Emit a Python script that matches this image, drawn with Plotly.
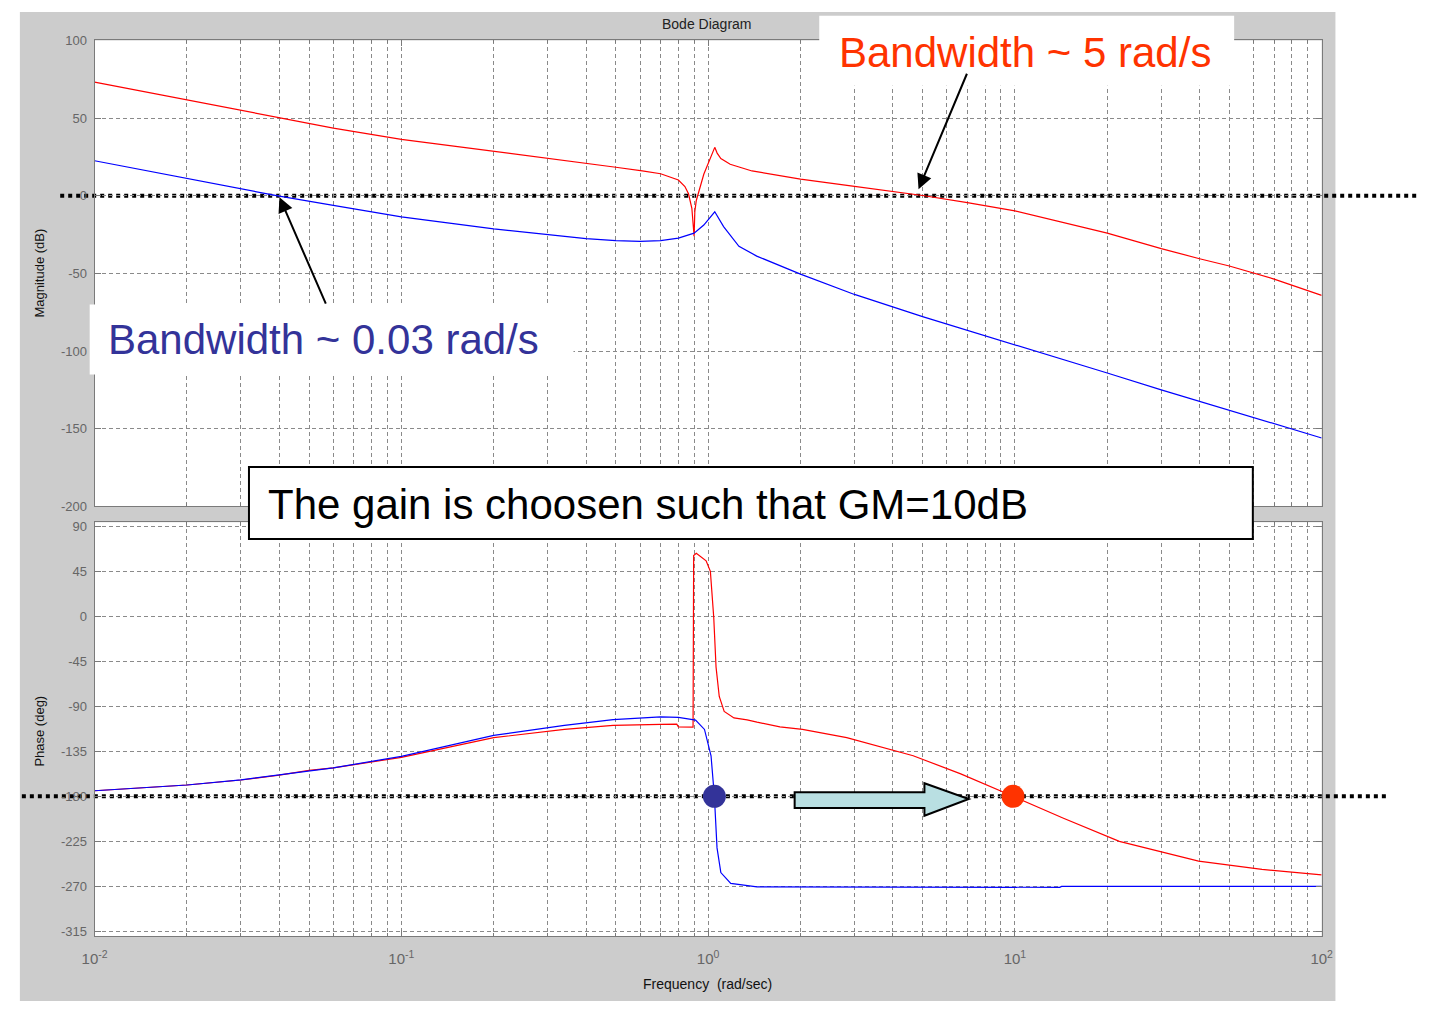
import plotly.graph_objects as go

# ---------------- data ----------------
# Open-loop magnitude (dB) of the two designs
mag_red_w = [0.01, 0.02, 0.03, 0.04, 0.06, 0.1, 0.2, 0.3, 0.5, 0.61, 0.7, 0.8, 0.84, 0.863,
             0.885, 0.9, 0.905, 0.915, 0.968, 1.051, 1.07, 1.10, 1.18, 1.39, 2.0, 3.0, 4.0, 5.0,
             7.0, 10.0, 20.0, 30.0, 40.0, 50.0, 70.0, 100.0]
mag_red_db = [73.2, 61.6, 55.0, 50.0, 43.6, 36.4, 28.8, 24.2, 18.4, 16.0, 14.2, 10.2, 6.0, 1.3,
              -8.0, -26.0, -10.0, -3.0, 13.9, 31.2, 27.5, 24.0, 20.3, 16.0, 10.8, 6.1, 2.7, 0.2,
              -4.4, -9.7, -24.0, -34.0, -40.5, -45.2, -53.6, -64.1]

mag_blue_w = [0.01, 0.02, 0.03, 0.04, 0.06, 0.1, 0.2, 0.3, 0.4, 0.5, 0.6, 0.7, 0.8, 0.9,
              0.968, 1.051, 1.123, 1.26, 1.44, 2.0, 3.0, 5.0, 10.0, 20.0, 30.0, 50.0, 100.0]
mag_blue_db = [22.6, 11.2, 4.6, -0.2, -6.1, -13.5, -21.3, -25.1, -27.6, -28.9, -29.3, -28.9,
               -27.2, -24.0, -18.8, -10.3, -19.8, -32.5, -38.8, -50.4, -63.5, -77.8, -95.8,
               -114.1, -124.9, -138.0, -155.9]

# Open-loop phase (deg)
ph_red_w = [0.01, 0.02, 0.03, 0.04, 0.05, 0.06, 0.1, 0.2, 0.34, 0.49, 0.70, 0.79, 0.80, 0.893,
            0.897, 0.915, 0.985, 1.017, 1.043, 1.061, 1.087, 1.128, 1.214, 1.34, 1.443, 1.714,
            2.03, 2.83, 4.66, 6.66, 9.86, 14.4, 21.9, 39.7, 63.9, 100.0]
ph_red_deg = [-174.5, -168.7, -163.7, -158.8, -154.0, -151.5, -141.1, -121.3, -113.1, -109.1,
              -108.1, -107.8, -110.5, -110.8, 61.0, 63.3, 55.7, 45.2, -1.0, -50.4, -80.1, -95.0,
              -101.6, -103.5, -105.8, -110.5, -113.1, -121.3, -139.4, -157.6, -180.0, -202.0,
              -225.2, -245.0, -253.2, -258.8]

ph_blue_w = [0.01, 0.02, 0.03, 0.04, 0.05, 0.06, 0.1, 0.2, 0.34, 0.49, 0.70, 0.80, 0.89, 0.91,
             0.973, 1.022, 1.048, 1.069, 1.10, 1.185, 1.443, 5.0, 14.0, 14.2, 100.0]
ph_blue_deg = [-174.5, -168.7, -163.5, -158.5, -154.0, -151.5, -140.1, -119.0, -109.1, -103.2,
               -100.6, -101.0, -103.2, -103.8, -113.1, -139.5, -180.0, -231.7, -256.4, -267.3,
               -270.7, -271.2, -271.2, -270.3, -270.3]

# Phase crossover points (-180 deg) of each design
cross_blue = [1.048]
cross_red = [9.86]
cross_deg = [-180.0]

mag_ticks = [100, 50, 0, -50, -100, -150, -200]
phase_ticks = [90, 45, 0, -45, -90, -135, -180, -225, -270, -315]
decade_vals = [0.01, 0.1, 1, 10, 100]
decade_text = ["10<sup>-2</sup>", "10<sup>-1</sup>", "10<sup>0</sup>", "10<sup>1</sup>", "10<sup>2</sup>"]
minor_vals = [k * 10.0 ** e for e in range(-2, 2) for k in range(2, 10)]

# ---------------- layout helpers ----------------
W, H = 1430, 1009


def px(x):
    return x / W


def py(y):
    return 1 - y / H


MAG_DOMAIN = [py(507), py(34)]
MAG_RANGE = [-200, 100]
PH_DOMAIN = [py(943), py(523)]
PH_RANGE = [-319.9, 94.4]
X_DOMAIN = [px(83), px(1331)]


def to_paper(v, dom, rng):
    return dom[0] + (v - rng[0]) / (rng[1] - rng[0]) * (dom[1] - dom[0])


RED = "#FF0000"
BLUE = "#0000FF"
GRID = "#8a8a8a"
FRAME = "#7a7a7a"
TICKFONT = dict(family="Liberation Sans, Arial, sans-serif", size=13, color="#666666")
BIGFONT = "Liberation Sans, Arial, sans-serif"

fig = go.Figure()

fig.add_trace(go.Scatter(x=mag_red_w, y=mag_red_db, mode="lines", line=dict(color=RED, width=1.2),
                         xaxis="x", yaxis="y", showlegend=False, hoverinfo="skip"))
fig.add_trace(go.Scatter(x=mag_blue_w, y=mag_blue_db, mode="lines", line=dict(color=BLUE, width=1.2),
                         xaxis="x", yaxis="y", showlegend=False, hoverinfo="skip"))
fig.add_trace(go.Scatter(x=ph_red_w, y=ph_red_deg, mode="lines", line=dict(color=RED, width=1.2),
                         xaxis="x2", yaxis="y2", showlegend=False, hoverinfo="skip"))
fig.add_trace(go.Scatter(x=ph_blue_w, y=ph_blue_deg, mode="lines", line=dict(color=BLUE, width=1.2),
                         xaxis="x2", yaxis="y2", showlegend=False, hoverinfo="skip"))
fig.add_trace(go.Scatter(x=cross_blue, y=cross_deg, mode="markers",
                         marker=dict(color="#333399", size=23, line=dict(width=0)),
                         xaxis="x2", yaxis="y2", showlegend=False, hoverinfo="skip"))
fig.add_trace(go.Scatter(x=cross_red, y=cross_deg, mode="markers",
                         marker=dict(color="#FF3300", size=23, line=dict(width=0)),
                         xaxis="x2", yaxis="y2", showlegend=False, hoverinfo="skip"))

common_x = dict(type="log", range=[-2, 2], domain=X_DOMAIN, tickmode="array", tickvals=decade_vals,
                ticks="inside", ticklen=6, tickcolor=FRAME, showline=True, linecolor=FRAME,
                linewidth=1, mirror="ticks", showgrid=True, gridcolor=GRID, griddash="4px,3px",
                gridwidth=1, zeroline=False,
                minor=dict(tickmode="array", tickvals=minor_vals, ticks="inside", ticklen=3,
                           tickcolor=FRAME, showgrid=True, gridcolor=GRID, griddash="4px,3px",
                           gridwidth=1))
common_y = dict(tickmode="array", ticks="inside", ticklen=6, tickcolor=FRAME, showline=True,
                linecolor=FRAME, linewidth=1, mirror="ticks", showgrid=True, gridcolor=GRID,
                griddash="4px,3px", gridwidth=1, zeroline=False, tickfont=TICKFONT,
                ticklabelstandoff=4)

fig.update_layout(
    width=W, height=H, margin=dict(l=0, r=0, t=0, b=0),
    paper_bgcolor="white", plot_bgcolor="rgba(0,0,0,0)",
    xaxis=dict(common_x, anchor="y", showticklabels=False),
    yaxis=dict(common_y, domain=MAG_DOMAIN, range=MAG_RANGE, tickvals=mag_ticks,
               ticktext=[str(v) for v in mag_ticks], anchor="x"),
    xaxis2=dict(common_x, anchor="y2", matches="x", ticktext=decade_text,
                tickfont=dict(TICKFONT, size=15), ticklabelstandoff=9),
    yaxis2=dict(common_y, domain=PH_DOMAIN, range=PH_RANGE, tickvals=phase_ticks,
                ticktext=[str(v) for v in phase_ticks], anchor="x2"),
)

shapes = [
    # grey figure window
    dict(type="rect", xref="paper", yref="paper", x0=px(7), x1=px(1345), y0=0, y1=py(5),
         fillcolor="#CCCCCC", line=dict(width=0), layer="below"),
    # white plot areas
    dict(type="rect", xref="paper", yref="paper", x0=X_DOMAIN[0], x1=X_DOMAIN[1],
         y0=MAG_DOMAIN[0], y1=MAG_DOMAIN[1], fillcolor="white", line=dict(width=0), layer="below"),
    dict(type="rect", xref="paper", yref="paper", x0=X_DOMAIN[0], x1=X_DOMAIN[1],
         y0=PH_DOMAIN[0], y1=PH_DOMAIN[1], fillcolor="white", line=dict(width=0), layer="below"),
    # 0 dB and -180 deg reference lines
    dict(type="line", xref="paper", yref="paper", x0=px(48), x1=1.0,
         y0=to_paper(0, MAG_DOMAIN, MAG_RANGE), y1=to_paper(0, MAG_DOMAIN, MAG_RANGE),
         line=dict(color="black", width=4, dash="dot"), layer="below"),
    dict(type="line", xref="paper", yref="paper", x0=px(9), x1=px(1398),
         y0=to_paper(-180, PH_DOMAIN, PH_RANGE), y1=to_paper(-180, PH_DOMAIN, PH_RANGE),
         line=dict(color="black", width=4, dash="dot"), layer="below"),
    # label boxes
    dict(type="rect", xref="paper", yref="paper", x0=px(820), x1=px(1242), y0=py(80), y1=py(9),
         fillcolor="white", line=dict(width=0), layer="above"),
    dict(type="rect", xref="paper", yref="paper", x0=px(78), x1=px(570), y0=py(373), y1=py(302),
         fillcolor="white", line=dict(width=0), layer="above"),
    dict(type="rect", xref="paper", yref="paper", x0=px(240), x1=px(1261), y0=py(540), y1=py(467),
         fillcolor="white", line=dict(color="black", width=2), layer="above"),
]

# block arrow showing the move of the phase crossover
arrow_pts = [(795, 797), (927, 797), (927, 788), (972, 804), (927, 821), (927, 813), (795, 813)]
path = "M " + " L ".join(f"{px(a):.5f},{py(b):.5f}" for a, b in arrow_pts) + " Z"
shapes.append(dict(type="path", xref="paper", yref="paper", path=path, fillcolor="#B9DFE2",
                   line=dict(color="black", width=2), layer="above"))
fig.update_layout(shapes=shapes)


def label(text, x, y, size, color, xanchor="center", angle=0):
    return dict(text=text, x=px(x), y=py(y), xref="paper", yref="paper", showarrow=False,
                xanchor=xanchor, yanchor="middle", textangle=angle,
                font=dict(family=BIGFONT, size=size, color=color))


annotations = [
    label("Bode Diagram", 706, 17, 14, "#222222"),
    label("Magnitude (dB)", 27, 270, 13, "#111111", angle=-90),
    label("Phase (deg)", 27, 735, 13, "#111111", angle=-90),
    label("Frequency\u00a0\u00a0(rad/sec)", 706, 992, 14, "#111111"),
    label("Bandwidth ~ 5 rad/s", 838, 46, 42, "#FF3300", xanchor="left"),
    label("Bandwidth ~ 0.03 rad/s", 95, 338, 42, "#333399", xanchor="left"),
    label("The gain is choosen such that GM=10dB", 257, 505, 42, "black", xanchor="left"),
    # pointer arrows to the 0 dB crossings
    dict(text="", x=px(271), y=py(193), xref="paper", yref="paper", ax=47, ay=108,
         showarrow=True, arrowhead=2, arrowsize=1.5, arrowwidth=2, arrowcolor="black"),
    dict(text="", x=px(921), y=py(185), xref="paper", yref="paper", ax=49, ay=-117,
         showarrow=True, arrowhead=2, arrowsize=1.5, arrowwidth=2, arrowcolor="black"),
]
fig.update_layout(annotations=annotations)

fig.write_html("out.html")
